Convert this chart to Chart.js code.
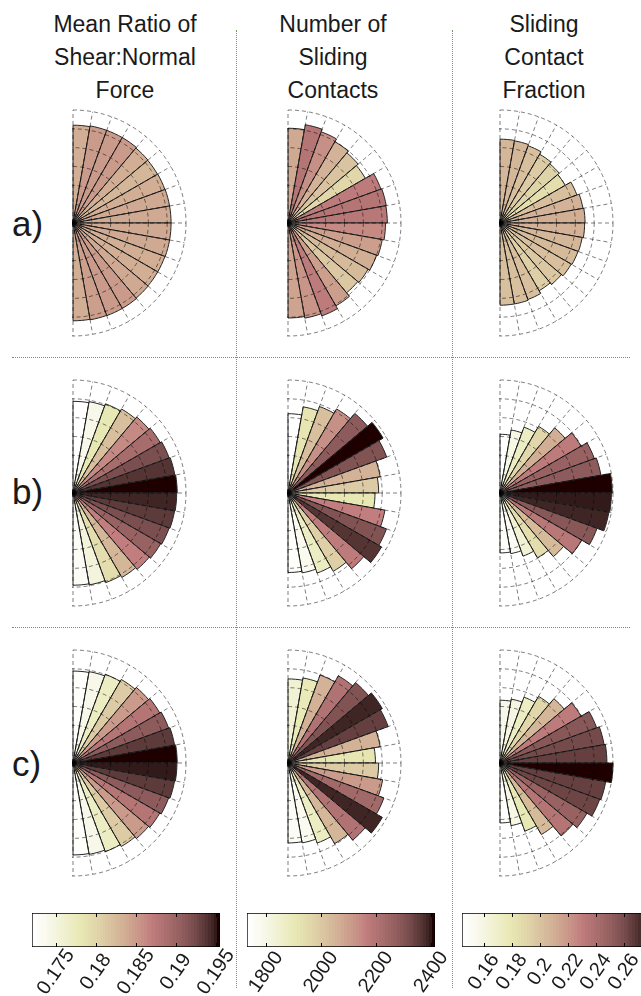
<!DOCTYPE html>
<html><head><meta charset="utf-8">
<script src="https://cdn.jsdelivr.net/npm/chart.js@4.4.1/dist/chart.umd.min.js"></script>
<style>
html,body{margin:0;padding:0;background:#fff;}
body{width:641px;height:996px;position:relative;overflow:hidden;font-family:"Liberation Sans",Arial,sans-serif;color:#1a1a1a;}
.t{position:absolute;text-align:center;font-size:23px;line-height:33px;width:220px;top:8px;}
.r{position:absolute;font-size:35px;line-height:40px;left:12px;}
.vl{position:absolute;width:0;border-left:1px dotted #6f9a5e;top:30px;height:958px;}
.hl{position:absolute;height:0;border-top:1px dotted #6f9a5e;left:12px;width:618px;}
canvas{position:absolute;}
</style></head><body>
<div class="t" style="left:15px">Mean Ratio of<br>Shear:Normal<br>Force</div>
<div class="t" style="left:223px">Number of<br>Sliding<br>Contacts</div>
<div class="t" style="left:434px">Sliding<br>Contact<br>Fraction</div>
<div class="r" style="top:204px">a)</div>
<div class="r" style="top:472px">b)</div>
<div class="r" style="top:744px">c)</div>
<div class="vl" style="left:236px"></div>
<div class="vl" style="left:452px"></div>
<div class="hl" style="top:357px"></div>
<div class="hl" style="top:627px"></div>
<script>
// sector labels (direction bins, top to bottom)
const sectorLabels = ['85','75','65','55','45','35','25','15','5','-5','-15','-25','-35','-45','-55','-65','-75','-85'];

// Column 1: mean ratio of shear:normal force
const shearA = [0.1835,0.185,0.185,0.185,0.1835,0.183,0.1835,0.184,0.184,0.184,0.184,0.1835,0.1835,0.184,0.185,0.185,0.1845,0.1835];
const shearB = [0.172,0.174,0.178,0.182,0.186,0.189,0.192,0.194,0.1955,0.1945,0.1935,0.192,0.190,0.187,0.183,0.179,0.175,0.173];
const shearC = [0.1725,0.174,0.177,0.181,0.185,0.188,0.191,0.1935,0.1955,0.195,0.1935,0.191,0.188,0.185,0.181,0.177,0.174,0.1725];
const shearRange = [0.172, 0.1955];
const shearRadiusMax = 0.212;
const shearTicks = [0.175, 0.18, 0.185, 0.19, 0.195];
const shearTickLabels = ['0.175','0.18','0.185','0.19','0.195'];

// Column 2: number of sliding contacts
const countA = [2080,2190,2130,2060,2010,1960,2170,2190,2180,2140,2100,2070,2030,2000,2100,2170,2120,2085];
const countB = [1740,1920,2020,2130,2280,2410,2305,2055,1990,1910,2160,2300,2370,2170,1985,1870,1780,1745];
const countC = [1845,1895,2055,2210,2305,2390,2340,2055,1920,1990,2110,2240,2390,2210,2045,1870,1780,1755];
const countRange = [1731, 2414];
const countRadiusMax = 2480;
const countTicks = [1800, 2000, 2200, 2400];
const countTickLabels = ['1800','2000','2200','2400'];

// Column 3: sliding contact fraction
const fracA = [0.207,0.206,0.203,0.196,0.191,0.186,0.202,0.208,0.210,0.209,0.206,0.205,0.203,0.198,0.193,0.201,0.203,0.203];
const fracB = [0.145,0.158,0.173,0.190,0.210,0.231,0.248,0.253,0.277,0.275,0.273,0.255,0.233,0.205,0.185,0.166,0.152,0.148];
const fracC = [0.155,0.160,0.173,0.190,0.207,0.231,0.254,0.261,0.264,0.279,0.265,0.262,0.248,0.235,0.204,0.179,0.157,0.148];
const fracRange = [0.1443, 0.2786];
const fracRadiusMax = 0.279;
const fracTicks = [0.16, 0.18, 0.2, 0.22, 0.24, 0.26];
const fracTickLabels = ['0.16','0.18','0.2','0.22','0.24','0.26'];

// MATLAB-style pink colormap (64 levels), flipped so low = white
function pinkRGB(k){
  const n = 24, m = 64;
  const r = Math.min(1,(k+1)/n);
  const g = k < n ? 0 : Math.min(1,(k-n+1)/n);
  const b = k < 2*n ? 0 : (k-2*n+1)/(m-2*n);
  const gr = k/(m-1);
  return [Math.sqrt((2*gr+r)/3), Math.sqrt((2*gr+g)/3), Math.sqrt((2*gr+b)/3)].map(x=>Math.round(x*255));
}
function mapColor(j){ const c = pinkRGB(63-j); return 'rgb('+c[0]+','+c[1]+','+c[2]+')'; }
function colorFor(v, range){
  let j = Math.floor((v-range[0])/(range[1]-range[0])*64);
  j = Math.max(0, Math.min(63, j));
  return mapColor(j);
}

const FONT = '"Liberation Sans", Arial, sans-serif';
const gridColor = 'rgba(0,0,0,0.5)';

const halfClip = {
  id: 'halfClip',
  beforeDraw(chart){
    const s = chart.scales.r, c = chart.ctx;
    c.save(); c.beginPath(); c.rect(s.xCenter-1, 0, chart.width, chart.height); c.clip();
  },
  afterDraw(chart){ chart.ctx.restore(); }
};

function makePolar(values, radiusMax, range, cx, cy){
  const cv = document.createElement('canvas');
  cv.width = 232; cv.height = 232;
  cv.style.left = (cx-116)+'px'; cv.style.top = (cy-116)+'px';
  document.body.appendChild(cv);
  const pad = new Array(18).fill(0);
  new Chart(cv, {
    type: 'polarArea',
    data: {
      labels: sectorLabels.concat(new Array(18).fill('')),
      datasets: [{
        data: values.concat(pad),
        backgroundColor: values.map(v=>colorFor(v, range)).concat(new Array(18).fill('rgba(0,0,0,0)')),
        borderColor: '#262626',
        borderWidth: values.map(()=>1).concat(pad)
      }]
    },
    options: {
      responsive: false, animation: false, devicePixelRatio: 1,
      layout: { padding: 3 },
      plugins: { legend: {display:false}, tooltip: {enabled:false} },
      scales: { r: {
        min: 0, max: radiusMax,
        ticks: { display: false, count: 7 },
        grid: { circular: true, color: gridColor, lineWidth: 1, z: 1 },
        border: { dash: [4,3] },
        angleLines: { display: true, color: gridColor, lineWidth: 1, borderDash: [4,3] },
        pointLabels: { display: false }
      } }
    },
    plugins: [halfClip]
  });
}

// colorbar tick marks (inside the box) and centred rotated tick labels
function cbDecor(tickLabels){
  return {
    id: 'cbDecor',
    afterDatasetsDraw(chart){
      const x = chart.scales.x, a = chart.chartArea, c = chart.ctx;
      c.save(); c.strokeStyle = '#000'; c.lineWidth = 1;
      x.ticks.forEach(t=>{
        const px = Math.round(x.getPixelForValue(t.value))+0.5;
        c.beginPath();
        c.moveTo(px, a.top); c.lineTo(px, a.top+4);
        c.moveTo(px, a.bottom); c.lineTo(px, a.bottom-4);
        c.stroke();
      });
      c.fillStyle = '#1a1a1a';
      c.font = '20px ' + FONT;
      c.textAlign = 'center'; c.textBaseline = 'middle';
      x.ticks.forEach((t, i)=>{
        const px = x.getPixelForValue(t.value);
        c.save();
        c.translate(px, a.bottom + 25);
        c.rotate(-55*Math.PI/180);
        c.fillText(tickLabels[i], 0, 0);
        c.restore();
      });
      c.restore();
    }
  };
}

function makeColorbar(left, top, width, range, tickVals, tickLabels){
  const padL = 40, padR = 30, padT = 2, boxH = 34, axisH = 60;
  const cv = document.createElement('canvas');
  cv.width = padL+width+padR; cv.height = padT+boxH+axisH;
  cv.style.left = (left-padL)+'px'; cv.style.top = (top-padT)+'px';
  document.body.appendChild(cv);
  new Chart(cv, {
    type: 'bar',
    data: { labels: [''], datasets: [{
      data: [[range[0], range[1]]],
      backgroundColor: (ctx)=>{
        const ch = ctx.chart;
        if (!ch.chartArea) return '#fff';
        const xs = ch.scales.x;
        const g = ch.ctx.createLinearGradient(xs.getPixelForValue(range[0]),0,xs.getPixelForValue(range[1]),0);
        for (let j=0;j<64;j++){ const col = mapColor(j); g.addColorStop(j/64, col); g.addColorStop((j+1)/64, col); }
        return g;
      },
      borderColor: '#000', borderWidth: 1, borderSkipped: false,
      barPercentage: 1, categoryPercentage: 1
    }]},
    options: {
      indexAxis: 'y', responsive: false, animation: false, devicePixelRatio: 1,
      layout: { padding: { left: padL, right: padR, top: padT, bottom: 0 } },
      plugins: { legend: {display:false}, tooltip: {enabled:false} },
      scales: {
        x: {
          type: 'linear', min: range[0], max: range[1],
          afterBuildTicks: s => { s.ticks = tickVals.map(v=>({value:v})); },
          afterFit: s => { s.height = axisH; },
          ticks: { display: false },
          grid: { display: false, drawTicks: false },
          border: { display: false }
        },
        y: { display: false }
      }
    },
    plugins: [cbDecor(tickLabels)]
  });
}

const colX = [73, 288, 500];
const rowY = [223, 493, 763];
makePolar(shearA, shearRadiusMax, shearRange, colX[0], rowY[0]);
makePolar(shearB, shearRadiusMax, shearRange, colX[0], rowY[1]);
makePolar(shearC, shearRadiusMax, shearRange, colX[0], rowY[2]);
makePolar(countA, countRadiusMax, countRange, colX[1], rowY[0]);
makePolar(countB, countRadiusMax, countRange, colX[1], rowY[1]);
makePolar(countC, countRadiusMax, countRange, colX[1], rowY[2]);
makePolar(fracA, fracRadiusMax, fracRange, colX[2], rowY[0]);
makePolar(fracB, fracRadiusMax, fracRange, colX[2], rowY[1]);
makePolar(fracC, fracRadiusMax, fracRange, colX[2], rowY[2]);

makeColorbar(32, 913, 188, shearRange, shearTicks, shearTickLabels);
makeColorbar(247, 913, 188, countRange, countTicks, countTickLabels);
makeColorbar(462, 913, 188, fracRange, fracTicks, fracTickLabels);
</script>
</body></html>
